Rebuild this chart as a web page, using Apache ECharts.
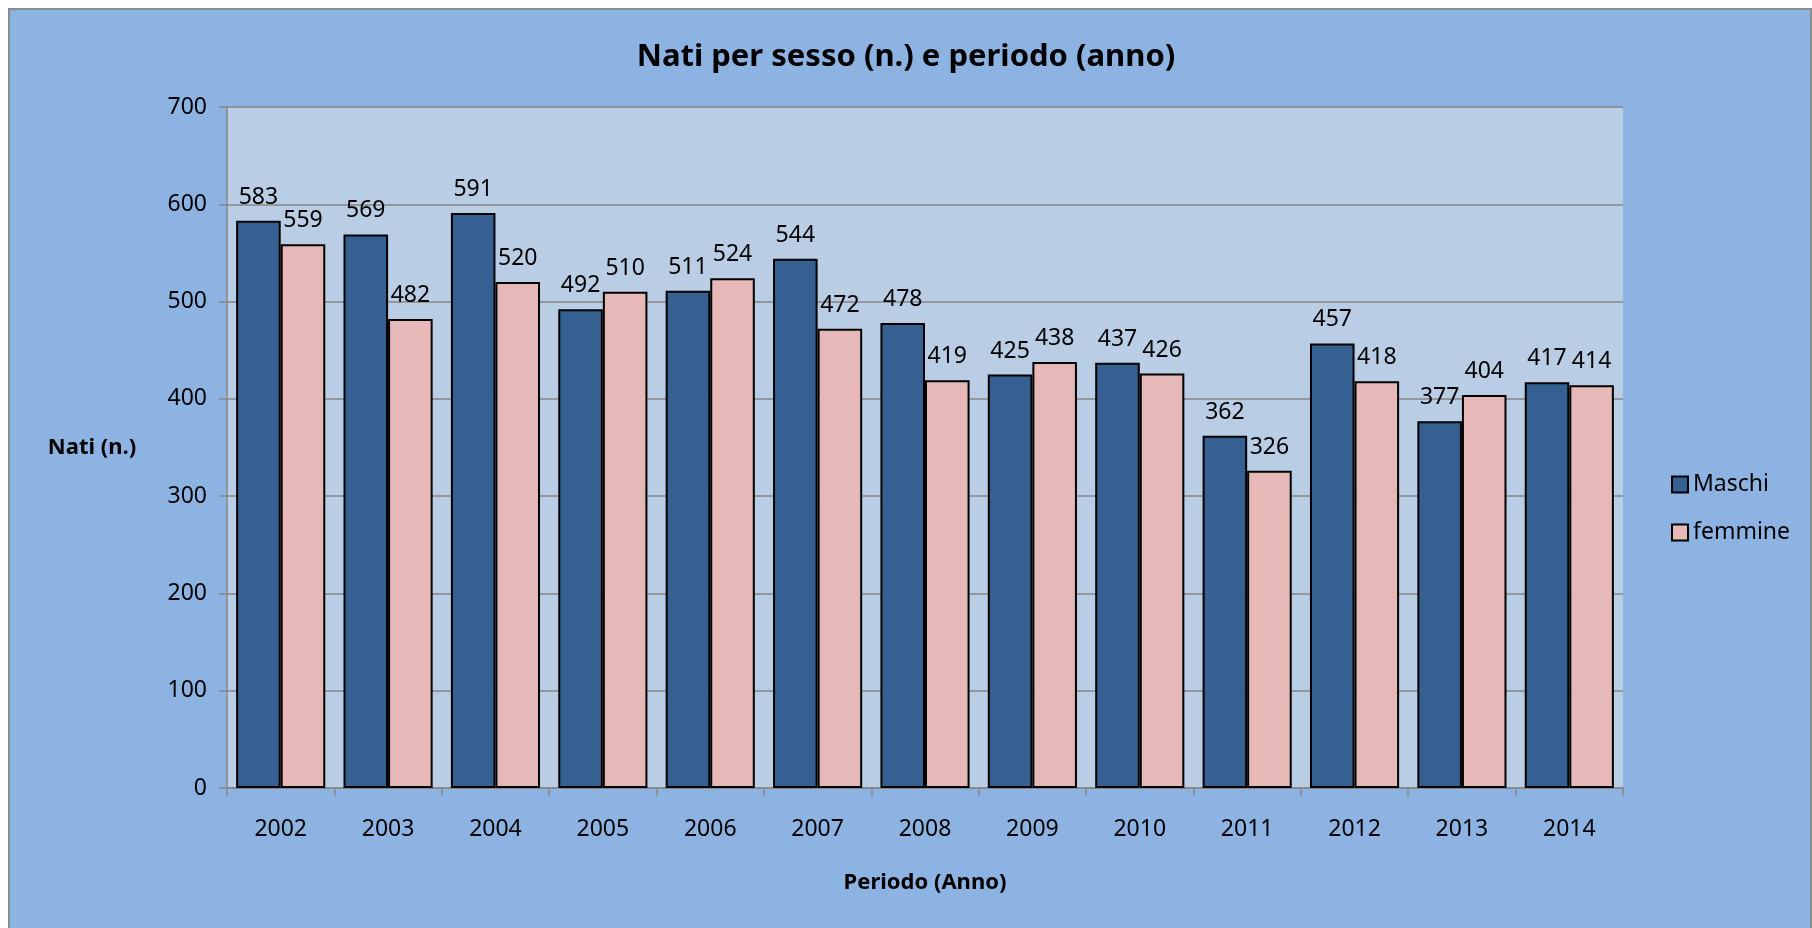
<!DOCTYPE html>
<html>
<head>
<meta charset="utf-8">
<script src="https://cdn.jsdelivr.net/npm/echarts@6/dist/echarts.min.js"></script>
<style>
html,body{margin:0;padding:0;background:#ffffff;}
#chart{width:1812px;height:928px;}
</style>
</head>
<body>
<div id="chart"></div>
<script>
const categories = ['2002','2003','2004','2005','2006','2007','2008','2009','2010','2011','2012','2013','2014'];
const maschi = [583,569,591,492,511,544,478,425,437,362,457,377,417];
const femmine = [559,482,520,510,524,472,419,438,426,326,418,404,414];
const yTicks = [0,100,200,300,400,500,600,700];

const FONT = 'Noto Sans';
const chart = echarts.init(document.getElementById('chart'), null, {renderer:'canvas'});
chart.setOption({
  backgroundColor: '#ffffff',
  animation: false,
  graphic: [{
    type: 'rect', z: -10, silent: true,
    shape: {x: 9, y: 9, width: 1802, height: 930},
    style: {fill: '#8DB3E2', stroke: '#8a8a8a', lineWidth: 2}
  }],
  title: {
    text: 'Nati per sesso (n.) e periodo (anno)',
    left: 'center', top: 37,
    textStyle: {fontFamily: FONT, fontWeight: 'bold', fontSize: 31, color: '#000'}
  },
  legend: {
    orient: 'vertical', left: 1666, top: 468,
    icon: 'rect',
    itemWidth: 16, itemHeight: 16, itemGap: 25,
    textStyle: {fontFamily: FONT, fontSize: 23, color: '#000', lineHeight: 23},
    data: ['Maschi','femmine']
  },
  grid: {
    left: 227, top: 107, right: 189, bottom: 140,
    show: true, backgroundColor: '#B9CDE5', borderWidth: 0
  },
  xAxis: {
    type: 'category', data: categories,
    name: 'Periodo (Anno)', nameLocation: 'middle', nameGap: 95,
    nameTextStyle: {fontFamily: FONT, fontWeight: 'bold', fontSize: 22, color: '#000', align:'center', verticalAlign:'middle'},
    axisLine: {show: true, lineStyle: {color: '#868686', width: 1.5}},
    axisTick: {show: true, length: 8, alignWithLabel: false, lineStyle: {color: '#868686', width: 1.5}},
    axisLabel: {fontFamily: FONT, fontSize: 23, color: '#000', margin: 30},
    splitLine: {show: false}
  },
  yAxis: {
    type: 'value', min: 0, max: 700, interval: 100,
    name: 'Nati (n.)', nameLocation: 'middle', nameGap: 135, nameRotate: 0,
    nameTextStyle: {fontFamily: FONT, fontWeight: 'bold', fontSize: 22, color: '#000', align:'center', verticalAlign:'middle'},
    axisLine: {show: true, lineStyle: {color: '#868686', width: 1.5}},
    axisTick: {show: true, length: 8, inside: false, lineStyle: {color: '#868686', width: 1.5}},
    axisLabel: {fontFamily: FONT, fontSize: 23, color: '#000', margin: 20,
      formatter: v => yTicks.includes(v) ? String(v) : ''},
    splitLine: {show: true, lineStyle: {color: '#868686', width: 1.5}}
  },
  series: [{
    name: 'Maschi', type: 'bar', data: maschi,
    barGap: '0%', barCategoryGap: '17%',
    itemStyle: {color: '#366092', borderColor: '#000', borderWidth: 2},
    label: {show: true, position: 'top', distance: 12, fontFamily: FONT, fontSize: 23, color: '#000'}
  },{
    name: 'femmine', type: 'bar', data: femmine,
    barGap: '0%', barCategoryGap: '17%',
    itemStyle: {color: '#E6B9B8', borderColor: '#000', borderWidth: 2},
    label: {show: true, position: 'top', distance: 12, fontFamily: FONT, fontSize: 23, color: '#000'}
  }]
});
</script>
</body>
</html>
